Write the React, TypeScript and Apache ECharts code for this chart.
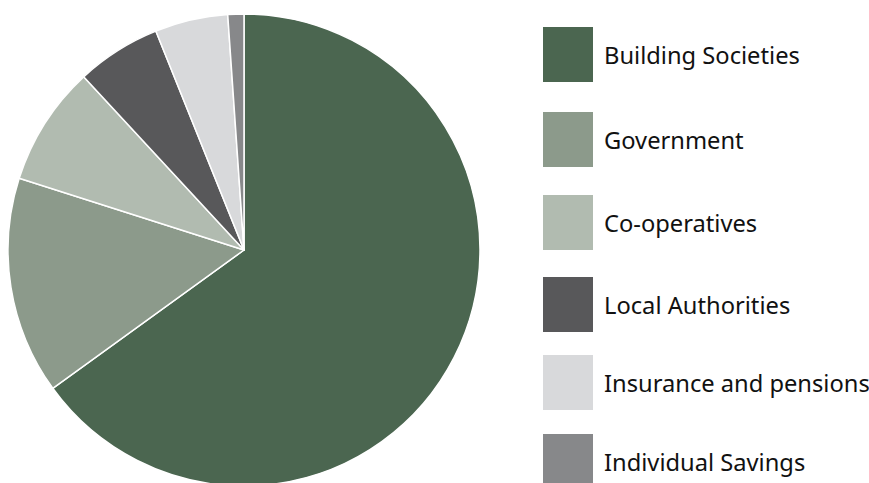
import React, { useEffect, useRef } from "react";
import * as echarts from "echarts";

const categories = [
  "Building Societies",
  "Government",
  "Co-operatives",
  "Local Authorities",
  "Insurance and pensions",
  "Individual Savings",
];
const values = [65.1, 14.9, 8.2, 5.8, 5.0, 1.1];
const colors = ["#4b6650", "#8c9a8b", "#b1bbb0", "#58585a", "#d8d9db", "#87888a"];
// legend square tops (page pixels)
const legendTops = [25, 110, 193, 275, 353, 432];

export default function App() {
  const ref = useRef<HTMLDivElement>(null);
  useEffect(() => {
    if (!ref.current) return;
    const chart = echarts.init(ref.current, null, { renderer: "svg" });
    chart.setOption({
      animation: false,
      color: colors,
      legend: categories.map((name, i) => ({
        orient: "vertical",
        left: 533,
        top: legendTops[i] - 8,
        padding: 0,
        itemWidth: 52,
        itemHeight: 57,
        icon: "rect",
        selectedMode: false,
        textStyle: {
          fontFamily: "Noto Sans",
          fontSize: 23.7,
          color: "#111111",
          padding: [0, 0, 0, 5],
        },
        data: [name],
      })),
      series: [
        {
          type: "pie",
          center: [236, 242],
          radius: 236,
          startAngle: 90,
          clockwise: true,
          label: { show: false },
          labelLine: { show: false },
          emphasis: { disabled: true },
          itemStyle: { borderColor: "#ffffff", borderWidth: 1.5 },
          data: categories.map((name, i) => ({ name, value: values[i] })),
        },
      ],
    });
    return () => chart.dispose();
  }, []);
  return (
    <div
      style={{
        position: "absolute",
        left: 8,
        top: 8,
        width: 861,
        height: 475,
        overflow: "hidden",
      }}
    >
      <div ref={ref} style={{ width: 861, height: 540 }} />
    </div>
  );
}
